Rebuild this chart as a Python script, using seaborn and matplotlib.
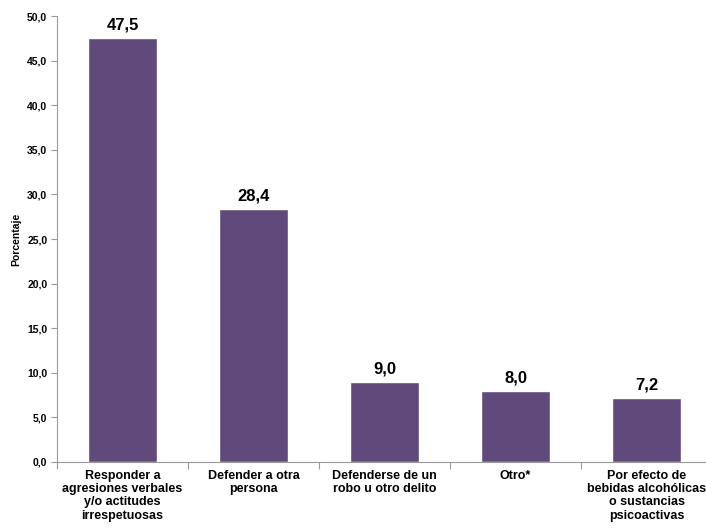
import matplotlib
matplotlib.use("Agg")
import matplotlib.pyplot as plt
import seaborn as sns
import pandas as pd
import numpy as np

categories = ["Responder a\nagresiones verbales\ny/o actitudes\nirrespetuosas",
              "Defender a otra\npersona",
              "Defenderse de un\nrobo u otro delito",
              "Otro*",
              "Por efecto de\nbebidas alcohólicas\no sustancias\npsicoactivas"]
values = [47.5, 28.4, 9.0, 8.0, 7.2]
yticks = [0, 5, 10, 15, 20, 25, 30, 35, 40, 45, 50]

sns.set_style("white")
plt.rcParams['font.family'] = ['Liberation Sans', 'DejaVu Sans']
plt.rcParams['text.color'] = 'black'
plt.rcParams['xtick.color'] = 'black'
plt.rcParams['ytick.color'] = 'black'
plt.rcParams['axes.labelcolor'] = 'black'

df = pd.DataFrame({"cat": categories, "val": values})
fig = plt.figure(figsize=(7.06, 5.29), dpi=100)
ax = fig.add_axes([0.0807, 0.1267, 0.928, 0.843])
sns.barplot(data=df, x="cat", y="val", color="#604A7B", saturation=1, width=0.53, ax=ax)

ax.set_xlim(-0.5, 4.5)
ax.set_ylim(0, 50)
ax.set_yticks(yticks)
ax.set_yticklabels([f"{v:.1f}".replace(".", ",") for v in yticks], fontsize=7.5, fontweight="bold")
ax.tick_params(axis="y", length=4, width=0.8, color="#999999", labelcolor="black",
               direction="out", pad=3, left=True)

ax.set_xticks(range(len(categories)))
ax.set_xticklabels(categories, fontsize=9, fontweight="bold", linespacing=1.12)
ax.tick_params(axis="x", length=0, pad=6, labelcolor="black")
ax.set_xticks(np.arange(-0.5, 4.6, 1), minor=True)
ax.tick_params(axis="x", which="minor", length=5, width=0.8, color="#999999", direction="out", bottom=True)
ax.set_xlabel("")
ax.set_ylabel("Porcentaje", fontsize=7.5, fontweight="bold", labelpad=4, color="black")

for s in ["top", "right"]:
    ax.spines[s].set_visible(False)
for s in ["left", "bottom"]:
    ax.spines[s].set_color("#999999")
    ax.spines[s].set_linewidth(0.8)

for i, v in enumerate(values):
    ax.text(i, v + 0.6, f"{v:.1f}".replace(".", ","), ha="center", va="bottom",
            fontsize=12, fontweight="bold", color="black")

fig.savefig("out.png", dpi=100)
